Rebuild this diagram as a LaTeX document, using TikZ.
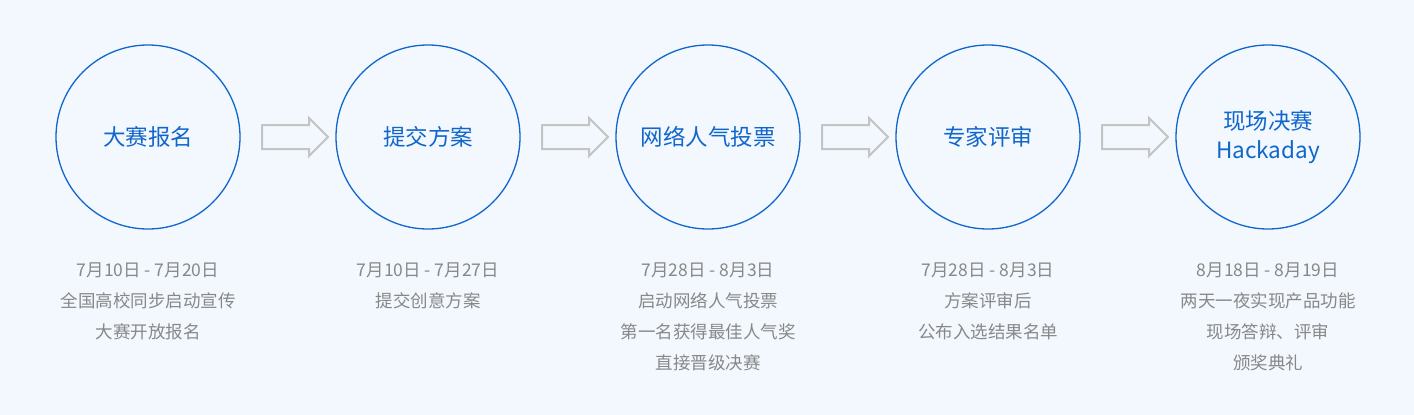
\documentclass[tikz,border=0pt]{standalone}
\usepackage{fontspec}
\setmainfont{Noto Sans CJK SC}
\usetikzlibrary{shapes.arrows}
\definecolor{bg}{HTML}{F2F8FE}
\definecolor{cblue}{HTML}{1166CC}
\definecolor{tgray}{HTML}{888888}
\definecolor{agray}{HTML}{C4C4C4}
\tikzset{
  stage/.style={circle,draw=cblue,line width=1.3pt,minimum size=184pt,inner sep=0pt,text=cblue,font=\fontsize{22.5}{29}\selectfont,align=center},
  desc/.style={text=tgray,font=\fontsize{17.5}{31}\selectfont,align=center,anchor=north},
  harrow/.style={single arrow,draw=agray,line width=2pt,fill=bg,inner xsep=0pt,inner ysep=11pt,single arrow head extend=7pt,minimum height=66pt}
}
\begin{document}
\begin{tikzpicture}[x=1pt,y=-1pt]
\fill[bg] (0,0) rectangle (1414,415);
\useasboundingbox (0,0) rectangle (1414,415);
\node[stage] (s1) at (148,137) {大赛报名};
\node[stage] (s2) at (428,137) {提交方案};
\node[stage] (s3) at (708,137) {网络人气投票};
\node[stage] (s4) at (988,137) {专家评审};
\node[stage] (s5) at (1268,137) {现场决赛\\Hackaday};
\node[harrow] (a1) at (289,137) {};
\node[harrow] (a2) at (569,137) {};
\node[harrow] (a3) at (849,137) {};
\node[harrow] (a4) at (1129,137) {};
\node[desc] (d1) at (148,259) {7月10日 - 7月20日\\全国高校同步启动宣传\\大赛开放报名};
\node[desc] (d2) at (428,259) {7月10日 - 7月27日\\提交创意方案};
\node[desc] (d3) at (708,259) {7月28日 - 8月3日\\启动网络人气投票\\第一名获得最佳人气奖\\直接晋级决赛};
\node[desc] (d4) at (988,259) {7月28日 - 8月3日\\方案评审后\\公布入选结果名单};
\node[desc] (d5) at (1268,259) {8月18日 - 8月19日\\两天一夜实现产品功能\\现场答辩、评审\\颁奖典礼};
\end{tikzpicture}
\end{document}
